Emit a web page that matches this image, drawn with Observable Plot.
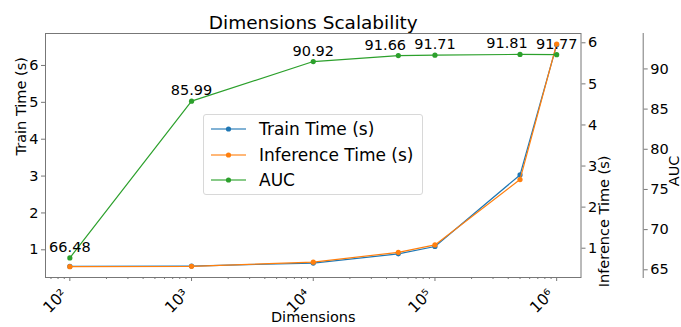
<!DOCTYPE html>
<html><head><meta charset="utf-8">
<script src="https://cdn.jsdelivr.net/npm/d3@7"></script>
<script src="https://cdn.jsdelivr.net/npm/@observablehq/plot@0.6"></script>
<style>
body{margin:0;background:#fff;}
#chart{position:relative;width:681px;height:327px;font-family:"DejaVu Sans",sans-serif;}
#chart svg{position:absolute;left:0;top:0;}
#legend{position:absolute;left:203px;top:114px;width:218px;height:79px;border:1px solid #d8d8d8;border-radius:3px;background:rgba(255,255,255,0.8);font-family:"DejaVu Sans",sans-serif;font-size:17px;color:#000;}
#legend .row{position:absolute;left:0;height:20px;display:flex;align-items:center;}
#legend svg{position:static;}
#legend span{position:absolute;left:55px;white-space:nowrap;line-height:20px;}
</style></head><body>
<div id="chart"></div>
<script>
// ---- data ----
const dims = [100, 1000, 10000, 50000, 100000, 500000, 1000000];
const trainTime = [0.55, 0.56, 0.64, 0.89, 1.09, 3.03, 6.56];
const inferTime = [0.55, 0.56, 0.66, 0.90, 1.08, 2.67, 5.97];
const auc = [66.48, 85.99, 90.92, 91.66, 91.71, 91.81, 91.77];
const seriesNames = ["Train Time (s)", "Inference Time (s)", "AUC"];
const xMajorTicks = [100, 1000, 10000, 100000, 1000000];
const trainTicks = [1, 2, 3, 4, 5, 6];
const inferTicks = [1, 2, 3, 4, 5, 6];
const aucTicks = [65, 70, 75, 80, 85, 90];
const shiftedLabels = [3, 5]; // annotation indices nudged left in the original

// ---- layout ----
const W = 681, H = 327, mL = 45, mR = 100.5, mT = 33, mB = 50;
const xDomain = [10 ** 1.8, 10 ** 6.2];
const trainDomain = [0.249, 6.867];
const inferDomain = [0.287, 6.226];
const aucDomain = [64.04, 94.41];
const colors = ["#1f77b4", "#ff7f0e", "#2ca02c"];
const spine = "#777";
const minorTicks = [];
for (let e = 1; e <= 6; e++) for (let m = 2; m <= 9; m++) {
  const v = m * 10 ** e;
  if (v > xDomain[0] && v < xDomain[1]) minorTicks.push(v);
}
const rows = dims.map((d, i) => ({i, dim: d, train: trainTime[i], infer: inferTime[i], auc: auc[i]}));
const supMap = {"0":"⁰","1":"¹","2":"²","3":"³","4":"⁴","5":"⁵","6":"⁶","7":"⁷","8":"⁸","9":"⁹"};
const fmtPow = d => "10" + String(Math.round(Math.log10(d))).split("").map(c => supMap[c]).join("");
const intFmt = d => String(d);
const baseStyle = {fontFamily: "DejaVu Sans", fontSize: "14px", color: "#000", background: "transparent", overflow: "visible"};

const p1 = Plot.plot({
  width: W, height: H, marginLeft: mL, marginRight: mR, marginTop: mT, marginBottom: mB,
  style: {...baseStyle, background: "white"},
  x: {type: "log", domain: xDomain},
  y: {domain: trainDomain},
  marks: [
    Plot.frame({stroke: spine}),
    Plot.axisX({ticks: minorTicks, tickSize: 2, tickFormat: () => "", label: null, stroke: spine}),
    Plot.axisX({ticks: xMajorTicks, tickSize: 4, tickFormat: () => "", label: null, stroke: spine}),
    Plot.text(xMajorTicks, {x: d => d, frameAnchor: "bottom", text: fmtPow, rotate: -45, textAnchor: "end", lineAnchor: "bottom", dy: 18, dx: -2, fontSize: 15.5, fill: "#000"}),
    Plot.axisY({ticks: trainTicks, tickFormat: intFmt, tickSize: 4, tickPadding: 3, label: null, stroke: spine, fill: "#000", fontSize: 14.5}),
    Plot.text([seriesNames[0]], {text: d => d, frameAnchor: "left", dx: -24.5, rotate: -90, fontSize: 14.5, fill: "#000"}),
    Plot.text(["Dimensions"], {text: d => d, frameAnchor: "bottom", dy: 44.5, fontSize: 14.5, fill: "#000"}),
    Plot.text(["Dimensions Scalability"], {text: d => d, frameAnchor: "top", dy: -5, lineAnchor: "bottom", fontSize: 18.5, fill: "#000"}),
    Plot.line(rows, {x: "dim", y: "train", stroke: colors[0], strokeWidth: 1.2}),
    Plot.dot(rows, {x: "dim", y: "train", fill: colors[0], r: 2.6, stroke: "none"})
  ]
});

const p2 = Plot.plot({
  width: W, height: H, marginLeft: mL, marginRight: mR, marginTop: mT, marginBottom: mB,
  style: baseStyle,
  x: {type: "log", domain: xDomain, axis: null},
  y: {domain: inferDomain},
  marks: [
    Plot.axisY({anchor: "right", ticks: inferTicks, tickFormat: intFmt, tickSize: 4, tickPadding: 3, label: null, stroke: spine, fill: "#000", fontSize: 14.5}),
    Plot.text([seriesNames[1]], {text: d => d, frameAnchor: "right", dx: 23, rotate: -90, fontSize: 14.5, fill: "#000"}),
    Plot.line(rows, {x: "dim", y: "infer", stroke: colors[1], strokeWidth: 1.2}),
    Plot.dot(rows, {x: "dim", y: "infer", fill: colors[1], r: 2.6, stroke: "none"})
  ]
});

const p3 = Plot.plot({
  width: W, height: H, marginLeft: mL, marginRight: 38.3, marginTop: mT, marginBottom: mB,
  style: baseStyle,
  x: {type: "log", domain: xDomain, range: [mL, W - mR], axis: null},
  y: {domain: aucDomain},
  marks: [
    Plot.frame({anchor: "right", stroke: spine}),
    Plot.axisY({anchor: "right", ticks: aucTicks, tickFormat: intFmt, tickSize: 4, tickPadding: 3, label: null, stroke: spine, fill: "#000", fontSize: 14.5}),
    Plot.text([seriesNames[2]], {text: d => d, frameAnchor: "right", dx: 31, rotate: -90, fontSize: 14.5, fill: "#000"}),
    Plot.line(rows, {x: "dim", y: "auc", stroke: colors[2], strokeWidth: 1.2}),
    Plot.dot(rows, {x: "dim", y: "auc", fill: colors[2], r: 2.6, stroke: "none"}),
    Plot.text(rows.filter(d => !shiftedLabels.includes(d.i)), {x: "dim", y: "auc", text: d => d.auc.toFixed(2), dy: -6, lineAnchor: "bottom", fontSize: 14.5, fill: "#000"}),
    Plot.text(rows.filter(d => shiftedLabels.includes(d.i)), {x: "dim", y: "auc", text: d => d.auc.toFixed(2), dy: -6, dx: -13, lineAnchor: "bottom", fontSize: 14.5, fill: "#000"})
  ]
});

const chart = document.getElementById("chart");
chart.append(p1, p2, p3);

// legend
const legend = document.createElement("div");
legend.id = "legend";
const rowTops = [4, 29.5, 55];
seriesNames.forEach((name, i) => {
  const r = document.createElement("div");
  r.className = "row";
  r.style.top = rowTops[i] + "px";
  r.innerHTML = `<svg width="50" height="20" style="position:absolute;left:0;top:0"><line x1="7" x2="42" y1="10" y2="10" stroke="${colors[i]}" stroke-width="1.5" stroke-opacity="0.75"/><circle cx="24.5" cy="10" r="2.6" fill="${colors[i]}"/></svg><span>${name}</span>`;
  legend.append(r);
});
chart.append(legend);
</script>
</body></html>
